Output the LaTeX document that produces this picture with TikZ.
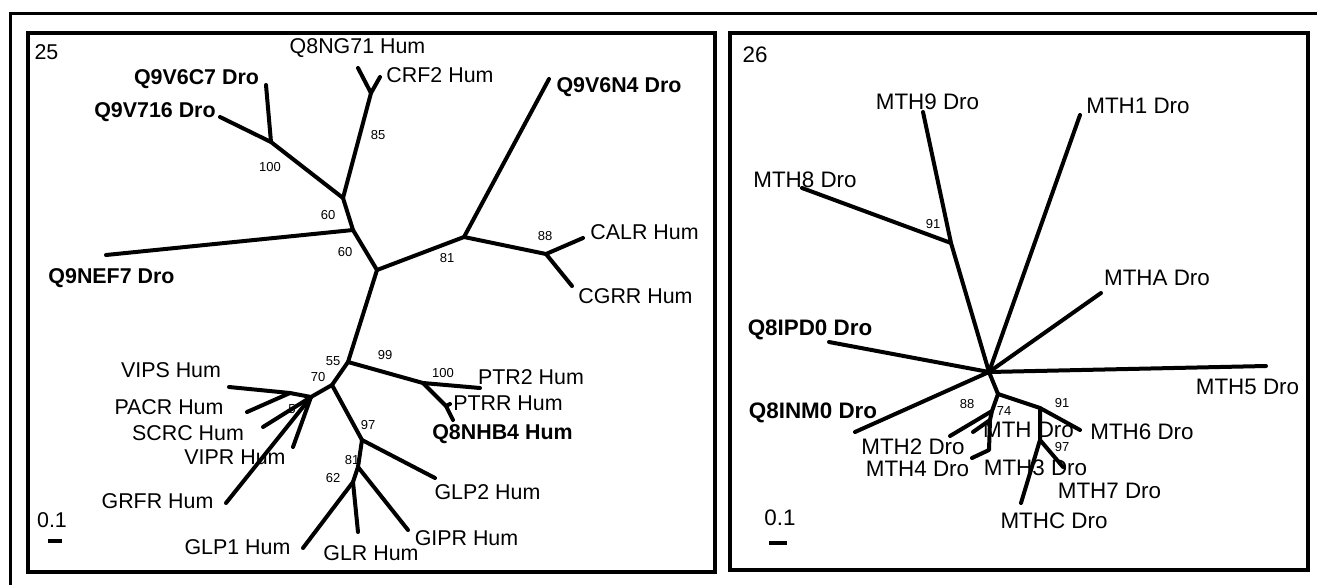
\documentclass[tikz,border=0pt]{standalone}
\usepackage{fontspec}
\setmainfont{Liberation Sans}

\begin{document}
\begin{tikzpicture}[x=0.5pt, y=-0.5pt,
        branch/.style={line width=2pt, line cap=round, line join=round},
        frame/.style={line width=2pt},
        leaf/.style={inner sep=0pt, font=\fontsize{10.7}{12}\selectfont},
        dro/.style={inner sep=0pt, font=\fontsize{10.7}{12}\selectfont\bfseries},
        boot/.style={inner sep=0pt, font=\fontsize{6.5}{7}\selectfont}
    ]
    \useasboundingbox (0,0) rectangle (1317,584);
    \draw[line width=1.5pt] (10,590) -- (10,13) -- (1322,13);

    % Left diagram - tree 25
    \draw[frame] (28,33) rectangle (715,572);
    \node[leaf] (n25) at (46.5,52) {25};

    \coordinate (a1) at (371,93);
    \coordinate (a2) at (271,142);
    \coordinate (a3) at (343,198);
    \coordinate (a4) at (353,230);
    \coordinate (a5) at (377,270);
    \coordinate (a6) at (464,237);
    \coordinate (a7) at (546,254);
    \coordinate (a8) at (348,362);
    \coordinate (a9) at (423,383);
    \coordinate (a10) at (446,406);
    \coordinate (a11) at (332,385);
    \coordinate (a12) at (311,397);
    \coordinate (a13) at (290,393);
    \coordinate (a14) at (362,440);
    \coordinate (a15) at (358,467);
    \coordinate (a16) at (353,482);

    \coordinate (tQ8NG71) at (358,68);
    \coordinate (tCRF2) at (380,77);
    \coordinate (tQ9V6C7) at (266,85);
    \coordinate (tQ9V716) at (220,117);
    \coordinate (tQ9NEF7) at (106,255);
    \coordinate (tQ9V6N4) at (549,79);
    \coordinate (tCALR) at (583,238);
    \coordinate (tCGRR) at (572,286);
    \coordinate (tPTR2) at (480,388);
    \coordinate (tPTRR) at (450,404);
    \coordinate (tQ8NHB4) at (453,420);
    \coordinate (tVIPS) at (229,387);
    \coordinate (tPACR) at (247,412);
    \coordinate (tSCRC) at (263,427);
    \coordinate (tVIPR) at (293,447);
    \coordinate (tGRFR) at (226,503);
    \coordinate (tGLP2) at (435,478);
    \coordinate (tGIPR) at (408,530);
    \coordinate (tGLR) at (358,532);
    \coordinate (tGLP1) at (303,548);

    \node[leaf] (lQ8NG71) at (357.5,48) {Q8NG71 Hum};
    \node[leaf] (lCRF2) at (440,75) {CRF2 Hum};
    \node[dro] (lQ9V6C7) at (196.5,79) {Q9V6C7 Dro};
    \node[dro] (lQ9V716) at (155,112) {Q9V716 Dro};
    \node[dro] (lQ9NEF7) at (111.5,278) {Q9NEF7 Dro};
    \node[dro] (lQ9V6N4) at (619,87) {Q9V6N4 Dro};
    \node[leaf] (lCALR) at (644.5,232) {CALR Hum};
    \node[leaf] (lCGRR) at (635.5,296) {CGRR Hum};
    \node[leaf] (lPTR2) at (531,377) {PTR2 Hum};
    \node[leaf] (lPTRR) at (508,403) {PTRR Hum};
    \node[dro] (lQ8NHB4) at (502.5,434) {Q8NHB4 Hum};
    \node[leaf] (lVIPS) at (171,370) {VIPS Hum};
    \node[leaf] (lPACR) at (169,407) {PACR Hum};
    \node[leaf] (lSCRC) at (188,433) {SCRC Hum};
    \node[leaf] (lVIPR) at (235,457) {VIPR Hum};
    \node[leaf] (lGRFR) at (157.5,501) {GRFR Hum};
    \node[leaf] (lGLP2) at (487.5,492) {GLP2 Hum};
    \node[leaf] (lGIPR) at (466.5,538) {GIPR Hum};
    \node[leaf] (lGLR) at (371,553) {GLR Hum};
    \node[leaf] (lGLP1) at (237.5,547) {GLP1 Hum};

    \node[boot] (b85) at (378,135) {85};
    \node[boot] (b100a) at (270,167) {100};
    \node[boot] (b60a) at (328,215) {60};
    \node[boot] (b60b) at (345,252) {60};
    \node[boot] (b81a) at (447,258) {81};
    \node[boot] (b88a) at (545,236) {88};
    \node[boot] (b99) at (385,355) {99};
    \node[boot] (b100b) at (443,373) {100};
    \node[boot] (b55) at (333,361) {55};
    \node[boot] (b70) at (318,377) {70};
    \node[boot] (b5) at (292,409) {5};
    \node[boot] (b97a) at (368,425) {97};
    \node[boot] (b81b) at (352,460) {81};
    \node[boot] (b62) at (333,478) {62};

    \draw[branch] (tQ8NG71) -- (a1) -- (tCRF2);
    \draw[branch] (a1) -- (a3);
    \draw[branch] (tQ9V6C7) -- (a2);
    \draw[branch] (tQ9V716) -- (a2) -- (a3) -- (a4) -- (a5) -- (a6) -- (tQ9V6N4);
    \draw[branch] (a4) -- (tQ9NEF7);
    \draw[branch] (a6) -- (a7) -- (tCALR);
    \draw[branch] (a7) -- (tCGRR);
    \draw[branch] (a5) -- (a8) -- (a9) -- (tPTR2);
    \draw[branch] (a9) -- (a10) -- (tQ8NHB4);
    \draw[branch] (a10) -- (tPTRR);
    \draw[branch] (a8) -- (a11) -- (a12) -- (a13) -- (tVIPS);
    \draw[branch] (a13) -- (tPACR);
    \draw[branch] (a12) -- (tSCRC);
    \draw[branch] (a12) -- (tVIPR);
    \draw[branch] (a12) -- (tGRFR);
    \draw[branch] (a11) -- (a14) -- (tGLP2);
    \draw[branch] (a14) -- (a15) -- (tGIPR);
    \draw[branch] (a15) -- (a16) -- (tGLP1);
    \draw[branch] (a16) -- (tGLR);

    % scale bar
    \node[leaf] (sL) at (52,520) {0.1};
    \coordinate (sL1) at (48,541);
    \coordinate (sL2) at (62,541);
    \draw[line width=2pt] (sL1) -- (sL2);

    % Right diagram - tree 26
    \begin{scope}[
        leaf/.style={inner sep=0pt, font=\fontsize{11.2}{13}\selectfont},
        dro/.style={inner sep=0pt, font=\fontsize{11.2}{13}\selectfont\bfseries}
    ]
    \draw[frame] (730,33) rectangle (1308,570);
    \node[leaf] (n26) at (755,55) {26};

    \coordinate (b0) at (989,372);
    \coordinate (b1) at (951,243);
    \coordinate (b2) at (998,394);
    \coordinate (b3) at (992,411);
    \coordinate (b4) at (990,420);
    \coordinate (b5) at (989,450);
    \coordinate (b6) at (1040,408);
    \coordinate (b7) at (1040,440);

    \coordinate (tMTH9) at (923,112);
    \coordinate (tMTH8) at (802,188);
    \coordinate (tMTH1) at (1080,115);
    \coordinate (tMTHA) at (1101,293);
    \coordinate (tMTH5) at (1266,366);
    \coordinate (tQ8IPD0) at (829,342);
    \coordinate (tQ8INM0) at (855,432);
    \coordinate (tMTH2) at (950,436);
    \coordinate (tMTH) at (973,432);
    \coordinate (tMTH4) at (972,458);
    \coordinate (tMTH6) at (1080,430);
    \coordinate (tMTH3) at (1063,467);
    \coordinate (tMTHC) at (1021,503);

    \node[leaf] (lMTH9) at (927.5,102) {MTH9 Dro};
    \node[leaf] (lMTH1) at (1138,106) {MTH1 Dro};
    \node[leaf] (lMTH8) at (805,180) {MTH8 Dro};
    \node[leaf] (lMTHA) at (1157,278) {MTHA Dro};
    \node[dro] (lQ8IPD0) at (810,330) {Q8IPD0 Dro};
    \node[leaf] (lMTH5) at (1247.5,387) {MTH5 Dro};
    \node[dro] (lQ8INM0) at (813,413) {Q8INM0 Dro};
    \node[leaf] (lMTH2) at (913,447) {MTH2 Dro};
    \node[leaf] (lMTH4) at (917.5,469) {MTH4 Dro};
    \node[leaf] (lMTH) at (1028.5,430) {MTH Dro};
    \node[leaf] (lMTH3) at (1035.5,468) {MTH3 Dro};
    \node[leaf] (lMTH6) at (1142,432) {MTH6 Dro};
    \node[leaf] (lMTH7) at (1109.5,491) {MTH7 Dro};
    \node[leaf] (lMTHC) at (1054,521) {MTHC Dro};

    \node[boot] (b91a) at (933,224) {91};
    \node[boot] (b88b) at (967,404) {88};
    \node[boot] (b74) at (1004,411) {74};
    \node[boot] (b91b) at (1062,403) {91};
    \node[boot] (b97b) at (1062,447) {97};

    \draw[branch] (tMTH9) -- (b1) -- (b0);
    \draw[branch] (b1) -- (tMTH8);
    \draw[branch] (tMTH1) -- (b0);
    \draw[branch] (tMTHA) -- (b0);
    \draw[branch] (tMTH5) -- (b0);
    \draw[branch] (tQ8IPD0) -- (b0);
    \draw[branch] (tQ8INM0) -- (b0);
    \draw[branch] (b0) -- (b2) -- (b3) -- (tMTH2);
    \draw[branch] (b3) -- (b4) -- (b5) -- (tMTH4);
    \draw[branch] (b4) -- (tMTH);
    \draw[branch] (b2) -- (b6) -- (tMTH6);
    \draw[branch] (b6) -- (b7) -- (tMTH3);
    \draw[branch] (b7) -- (tMTHC);

    % scale bar
    \node[leaf] (sR) at (780,518) {0.1};
    \coordinate (sR1) at (769,543);
    \coordinate (sR2) at (787,543);
    \draw[line width=2pt] (sR1) -- (sR2);
    \end{scope}
\end{tikzpicture}
\end{document}
